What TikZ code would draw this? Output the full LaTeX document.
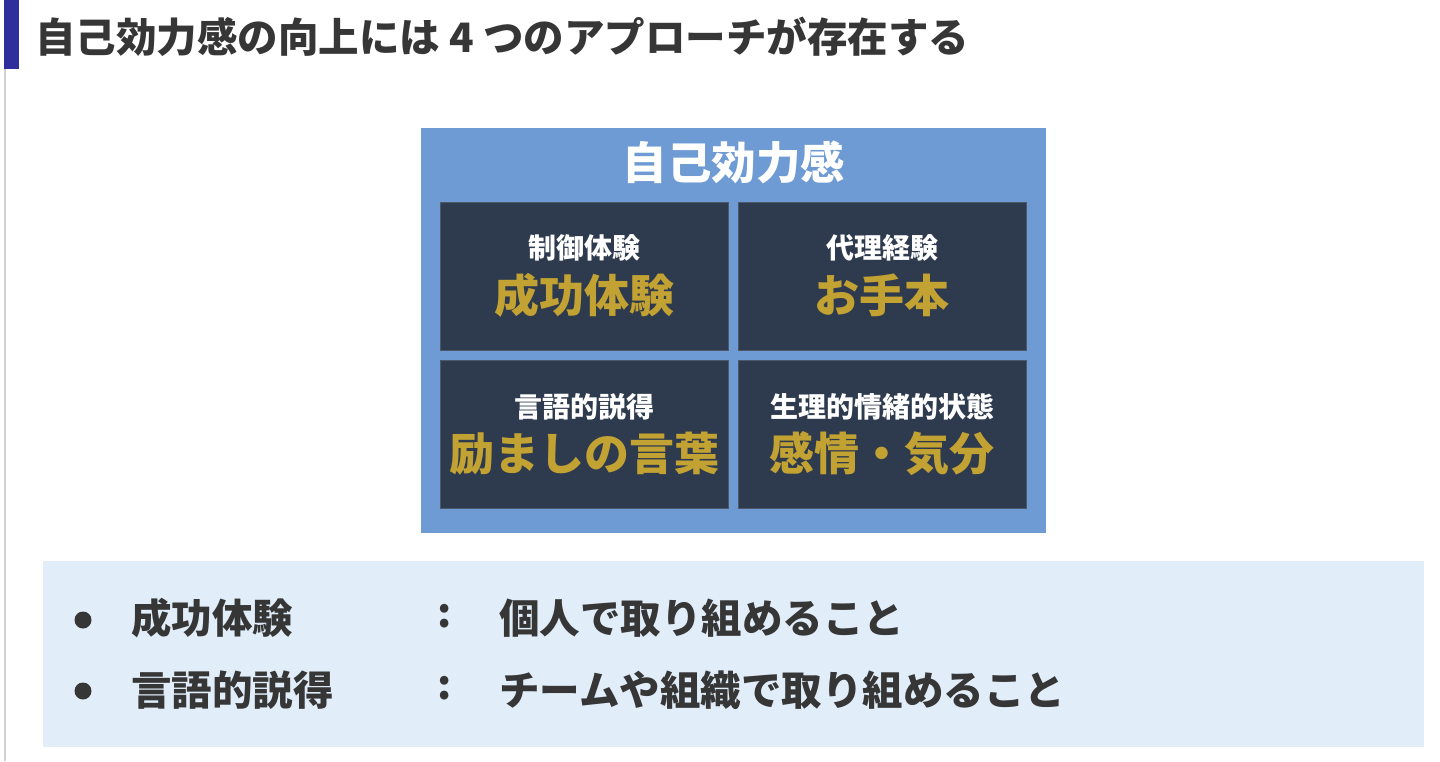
\documentclass[tikz,border=0pt]{standalone}
\usepackage{fontspec}
\setmainfont{Noto Sans CJK JP}
\usepackage{xcolor}
\usepackage{tikz}
\usetikzlibrary{positioning}
\definecolor{titlebar}{HTML}{2E2E9C}
\definecolor{framebg}{HTML}{6F9BD4}
\definecolor{cellbg}{HTML}{2E3A4E}
\definecolor{gold}{HTML}{C2A232}
\definecolor{notebg}{HTML}{E1EEFA}
\definecolor{ink}{HTML}{363636}
\tikzset{
    cell/.style={fill=cellbg, draw=cellbg!85!white, minimum width=288pt, minimum height=148pt, inner sep=0pt},
    small/.style={text=white, font=\bfseries\fontsize{28}{32}\selectfont, inner sep=0pt},
    big/.style={text=gold, font=\bfseries\fontsize{45}{50}\selectfont, inner sep=0pt},
    note/.style={text=ink, font=\bfseries\fontsize{40.5}{44}\selectfont, anchor=west, inner sep=0pt},
    dot/.style={circle, fill=ink, minimum size=17pt, inner sep=0pt},
}

\begin{document}
\begin{tikzpicture}[x=1pt, y=-1pt, node distance=10pt]
    \useasboundingbox[fill=white] (0,0) rectangle (1440,761);
    % title bar and page rule
    \fill[titlebar] (4,0) rectangle (19,69);
    \fill[gray!35] (4,69) rectangle (6,761);
    \node[text=ink, font=\bfseries\fontsize{40.5}{44}\selectfont, anchor=west, inner sep=0pt] (title) at (35,37) {自己効力感の向上には 4 つのアプローチが存在する};

    % the frame with four cells
    \node[fill=framebg, minimum width=625pt, minimum height=405pt, inner sep=0pt] (frame) at (733.5,330.5) {};
    \node[text=white, font=\bfseries\fontsize{44.5}{48}\selectfont, inner sep=0pt] (head) at (734,162) {自己効力感};
    \node[cell] (c1) at (584,276) {};
    \node[cell, right=of c1] (c2) {};
    \node[cell, below=of c1] (c3) {};
    \node[cell, right=of c3] (c4) {};

    \node[small] (s1) at ([yshift=28pt]c1.center) {制御体験};
    \node[big]   (b1) at ([yshift=-19pt]c1.center) {成功体験};
    \node[small] (s2) at ([yshift=28pt]c2.center) {代理経験};
    \node[big]   (b2) at ([yshift=-19pt]c2.center) {お手本};
    \node[small] (s3) at ([yshift=28pt]c3.center) {言語的説得};
    \node[big]   (b3) at ([yshift=-19pt]c3.center) {励ましの言葉};
    \node[small] (s4) at ([yshift=28pt]c4.center) {生理的情緒的状態};
    \node[big]   (b4) at ([yshift=-19pt]c4.center) {感情・気分};

    % notes below
    \fill[notebg] (43,561) rectangle (1424,747);
    \node[dot] (d1) at (83,620) {};
    \node[note] (k1) at (131,618) {成功体験};
    \node[note] (q1) at (437,616) {:};
    \node[note] (v1) at (499,618) {個人で取り組めること};
    \node[dot] (d2) at (83,691) {};
    \node[note] (k2) at (131,690) {言語的説得};
    \node[note] (q2) at (437,688) {:};
    \node[note] (v2) at (499,690) {チームや組織で取り組めること};
\end{tikzpicture}
\end{document}
